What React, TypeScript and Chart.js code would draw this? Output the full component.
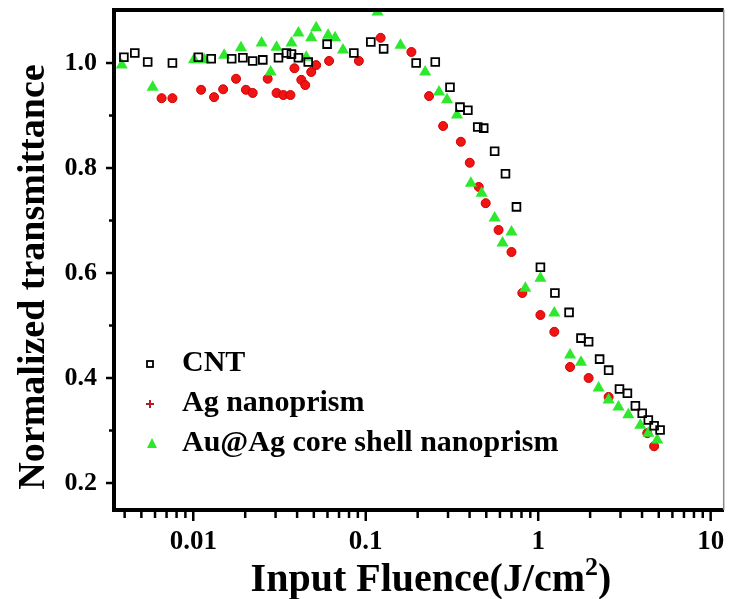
import React, { useEffect, useRef } from 'react';
import { Chart, registerables } from 'chart.js';

Chart.register(...registerables);

// ---------- data ----------
const SERIES_LABELS = ['CNT', 'Ag nanoprism', 'Au@Ag core shell nanoprism'];

const CNT_X = [0.00396, 0.00458, 0.00544, 0.00757, 0.0107, 0.0127, 0.0167, 0.0194, 0.0221, 0.0253, 0.0312, 0.0347, 0.0371, 0.0407, 0.0464, 0.0597, 0.0853, 0.107, 0.127, 0.196, 0.253, 0.308, 0.352, 0.391, 0.446, 0.483, 0.559, 0.646, 0.748, 1.03, 1.25, 1.51, 1.77, 1.96, 2.27, 2.56, 2.96, 3.29, 3.66, 4.01, 4.35, 4.70, 5.09];
const CNT_Y = [1.011, 1.019, 1.002, 1.000, 1.011, 1.008, 1.008, 1.010, 1.004, 1.006, 1.010, 1.019, 1.017, 1.010, 1.002, 1.036, 1.019, 1.040, 1.027, 1.000, 1.002, 0.954, 0.916, 0.910, 0.878, 0.876, 0.832, 0.789, 0.726, 0.611, 0.562, 0.525, 0.476, 0.469, 0.436, 0.415, 0.379, 0.371, 0.347, 0.333, 0.320, 0.309, 0.301];

const AG_X = [0.00655, 0.00757, 0.0111, 0.0132, 0.0149, 0.0177, 0.0202, 0.0221, 0.0270, 0.0304, 0.0333, 0.0366, 0.0386, 0.0423, 0.0446, 0.0483, 0.0516, 0.0613, 0.0912, 0.122, 0.184, 0.233, 0.281, 0.356, 0.401, 0.452, 0.496, 0.589, 0.700, 0.809, 1.03, 1.24, 1.53, 1.96, 2.56, 4.29, 4.70];
const AG_Y = [0.933, 0.933, 0.949, 0.935, 0.950, 0.970, 0.949, 0.943, 0.970, 0.943, 0.939, 0.939, 0.990, 0.968, 0.958, 0.983, 0.996, 1.004, 1.004, 1.048, 1.021, 0.937, 0.880, 0.850, 0.810, 0.764, 0.733, 0.682, 0.640, 0.562, 0.520, 0.488, 0.421, 0.400, 0.364, 0.295, 0.270];

const AU_X = [0.00385, 0.00581, 0.0101, 0.0116, 0.0151, 0.0189, 0.0249, 0.0281, 0.0304, 0.0371, 0.0407, 0.0452, 0.0483, 0.0516, 0.0605, 0.0664, 0.0738, 0.117, 0.159, 0.221, 0.266, 0.296, 0.338, 0.407, 0.470, 0.559, 0.621, 0.700, 0.842, 1.03, 1.24, 1.53, 1.77, 2.24, 2.56, 2.92, 3.33, 3.91, 4.35, 4.90];
const AU_Y = [0.996, 0.954, 1.006, 1.006, 1.015, 1.029, 1.038, 0.983, 1.030, 1.038, 1.057, 1.011, 1.048, 1.067, 1.053, 1.048, 1.025, 1.097, 1.034, 0.983, 0.945, 0.930, 0.901, 0.771, 0.752, 0.705, 0.657, 0.678, 0.571, 0.590, 0.524, 0.444, 0.430, 0.381, 0.358, 0.345, 0.330, 0.310, 0.295, 0.282];

const X_MIN = 0.00347;
const X_MAX = 11.9;
const Y_MIN = 0.1486;
const Y_MAX = 1.101;
const X_DECADES = [-3, -2, -1, 0, 1];
const X_MANTISSAS = [1, 2, 3, 4, 5, 6, 7, 8, 9];
const Y_MAJOR = [0.2, 0.4, 0.6, 0.8, 1.0];
const Y_MINOR = [0.3, 0.5, 0.7, 0.9];

const X_TITLE_MAIN = 'Input Fluence(J/cm';
const X_TITLE_SUP = '2';
const X_TITLE_END = ')';
const Y_TITLE = 'Normalized transmittance';

// ---------- styles ----------
const FONT = '"Liberation Serif", "Times New Roman", serif';
const GREEN = '#2ee82e';
const RED = '#f01414';

const isDecade = (v: number) => Math.abs(Math.log10(v) - Math.round(Math.log10(v))) < 1e-9;
const isYMajor = (v: number) => Y_MAJOR.some((m) => Math.abs(m - v) < 1e-9);

const X_TICKS: number[] = [];
X_DECADES.forEach((e) => X_MANTISSAS.forEach((m) => {
  const v = m * Math.pow(10, e);
  if (v >= X_MIN && v <= X_MAX) X_TICKS.push(e < 0 ? Number(v.toFixed(-e)) : v);
}));
const Y_TICKS = [...Y_MAJOR, ...Y_MINOR].sort((a, b) => a - b);

const pts = (xs: number[], ys: number[]) => xs.map((x, i) => ({ x, y: ys[i] }));

const decor = {
  id: 'decor',
  afterDatasetsDraw(chart: any) {
    const { ctx, chartArea: a, scales } = chart;
    const xs = scales.x;
    const ys = scales.y;
    ctx.save();
    // top frame (thick) and right frame (thin grey)
    ctx.strokeStyle = '#000';
    ctx.lineWidth = 4;
    ctx.beginPath();
    ctx.moveTo(a.left - 2, a.top);
    ctx.lineTo(a.right, a.top);
    ctx.stroke();
    ctx.strokeStyle = '#8a8a8a';
    ctx.lineWidth = 1.5;
    ctx.beginPath();
    ctx.moveTo(a.right, a.top);
    ctx.lineTo(a.right, a.bottom);
    ctx.stroke();

    // tick marks (outward)
    ctx.strokeStyle = '#000';
    ctx.lineWidth = 2.5;
    xs.ticks.forEach((t: any) => {
      const px = xs.getPixelForValue(t.value);
      const len = isDecade(t.value) ? 11 : 8;
      ctx.beginPath();
      ctx.moveTo(px, a.bottom);
      ctx.lineTo(px, a.bottom + len);
      ctx.stroke();
    });
    ys.ticks.forEach((t: any) => {
      const py = ys.getPixelForValue(t.value);
      const len = isYMajor(t.value) ? 8 : 5;
      ctx.beginPath();
      ctx.moveTo(a.left, py);
      ctx.lineTo(a.left - len, py);
      ctx.stroke();
    });

    // legend
    const legendX = 150;
    const textX = 182;
    const baselines = [371, 411, 451];
    ctx.font = `bold 30px ${FONT}`;
    ctx.fillStyle = '#000';
    ctx.textAlign = 'left';
    ctx.textBaseline = 'alphabetic';
    SERIES_LABELS.forEach((lab, i) => {
      const by = baselines[i];
      const my = by - 7;
      if (i === 0) {
        ctx.strokeStyle = '#000';
        ctx.lineWidth = 1.8;
        ctx.strokeRect(legendX - 3, my - 3, 6, 6);
      } else if (i === 1) {
        ctx.strokeStyle = '#b01e2a';
        ctx.lineWidth = 2;
        ctx.beginPath();
        ctx.moveTo(legendX - 4, my);
        ctx.lineTo(legendX + 4, my);
        ctx.moveTo(legendX, my - 4);
        ctx.lineTo(legendX, my + 4);
        ctx.stroke();
      } else {
        ctx.fillStyle = GREEN;
        ctx.beginPath();
        ctx.moveTo(legendX + 2, my - 6);
        ctx.lineTo(legendX + 7, my + 4);
        ctx.lineTo(legendX - 3, my + 4);
        ctx.closePath();
        ctx.fill();
        ctx.fillStyle = '#000';
      }
      ctx.fillText(lab, textX, by);
    });

    // axis titles
    ctx.fillStyle = '#000';
    ctx.font = `bold 40px ${FONT}`;
    const wMain = ctx.measureText(X_TITLE_MAIN).width;
    const wEnd = ctx.measureText(X_TITLE_END).width;
    ctx.font = `bold 26px ${FONT}`;
    const wSup = ctx.measureText(X_TITLE_SUP).width;
    const total = wMain + wSup + wEnd;
    let tx = 431 - total / 2;
    const tb = 591;
    ctx.font = `bold 40px ${FONT}`;
    ctx.fillText(X_TITLE_MAIN, tx, tb);
    tx += wMain;
    ctx.font = `bold 26px ${FONT}`;
    ctx.fillText(X_TITLE_SUP, tx, tb - 16);
    tx += wSup;
    ctx.font = `bold 40px ${FONT}`;
    ctx.fillText(X_TITLE_END, tx, tb);

    ctx.save();
    ctx.translate(44, 277);
    ctx.rotate(-Math.PI / 2);
    ctx.textAlign = 'center';
    ctx.font = `bold 38px ${FONT}`;
    ctx.fillText(Y_TITLE, 0, 0);
    ctx.restore();

    ctx.restore();
  },
};

export default function App() {
  const ref = useRef<HTMLCanvasElement | null>(null);

  useEffect(() => {
    if (!ref.current) return;
    const chart = new Chart(ref.current, {
      type: 'scatter',
      data: {
        datasets: [
          {
            label: SERIES_LABELS[0],
            data: pts(CNT_X, CNT_Y),
            pointStyle: 'rect',
            pointRadius: 5.5,
            pointBorderWidth: 1.8,
            pointBorderColor: '#000',
            pointBackgroundColor: 'rgba(255,255,255,0)',
            order: 0,
          },
          {
            label: SERIES_LABELS[2],
            data: pts(AU_X, AU_Y),
            pointStyle: 'triangle',
            pointRadius: 7,
            pointBorderWidth: 0,
            pointBorderColor: GREEN,
            pointBackgroundColor: GREEN,
            order: 1,
          },
          {
            label: SERIES_LABELS[1],
            data: pts(AG_X, AG_Y),
            pointStyle: 'circle',
            pointRadius: 4.5,
            pointBorderWidth: 1,
            pointBorderColor: '#d00000',
            pointBackgroundColor: RED,
            order: 2,
          },
        ],
      },
      options: {
        animation: false,
        responsive: false,
        maintainAspectRatio: false,
        layout: { padding: { top: 10, right: 3, left: 0, bottom: 0 } },
        plugins: { legend: { display: false }, tooltip: { enabled: false } },
        scales: {
          x: {
            type: 'logarithmic',
            min: X_MIN,
            max: X_MAX,
            afterBuildTicks: (s: any) => {
              s.ticks = X_TICKS.map((v) => ({ value: v, major: isDecade(v) }));
            },
            afterFit: (s: any) => {
              s.height = 89;
              s.paddingLeft = 0;
              s.paddingRight = 0;
            },
            grid: { display: false, drawTicks: false, tickLength: 0 },
            border: { display: true, color: '#000', width: 4 },
            ticks: {
              autoSkip: false,
              maxRotation: 0,
              minRotation: 0,
              padding: 16,
              color: '#000',
              font: { family: FONT, size: 27, weight: 'bold' },
              callback: (v: any) => (isDecade(Number(v)) ? String(Number(v)) : ''),
            },
          },
          y: {
            type: 'linear',
            min: Y_MIN,
            max: Y_MAX,
            afterBuildTicks: (s: any) => {
              s.ticks = Y_TICKS.map((v) => ({ value: v }));
            },
            afterFit: (s: any) => {
              s.width = 114;
              s.paddingTop = 0;
              s.paddingBottom = 0;
            },
            grid: { display: false, drawTicks: false, tickLength: 0 },
            border: { display: true, color: '#000', width: 4 },
            ticks: {
              autoSkip: false,
              padding: 17,
              color: '#000',
              font: { family: FONT, size: 26, weight: 'bold' },
              callback: (v: any) => (isYMajor(Number(v)) ? Number(v).toFixed(1) : ''),
            },
          },
        },
      },
      plugins: [decor],
    } as any);
    return () => chart.destroy();
  }, []);

  return (
    <div style={{ position: 'fixed', left: 0, top: 0, width: 731, height: 599, background: '#fff' }}>
      <canvas ref={ref} width={731} height={599} style={{ display: 'block', width: 731, height: 599 }} />
    </div>
  );
}
